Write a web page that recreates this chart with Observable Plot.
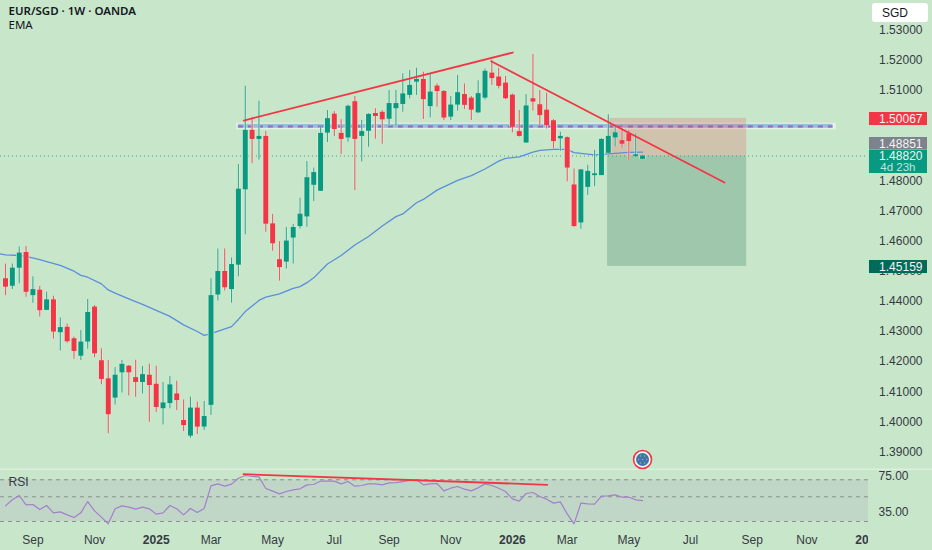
<!DOCTYPE html>
<html>
<head>
<meta charset="utf-8">
<style>
html,body{margin:0;padding:0;background:#c8e6c9;overflow:hidden}
svg{display:block}
</style>
<script src="https://cdn.jsdelivr.net/npm/d3@7"></script>
<script src="https://cdn.jsdelivr.net/npm/@observablehq/plot@0.6"></script>
</head>
<body>
<div id="chart"></div>
<script>
// Weekly candles, first bar 2024-08-05
const opens  = [1.4475,1.4450,1.4510,1.4562,1.4419,1.4437,1.4370,1.4405,1.4296,1.4314,1.4276,1.4218,1.4265,1.4381,1.4203,1.4143,1.4079,1.4163,1.4185,1.4147,1.4131,1.4155,1.4125,1.4044,1.4061,1.4093,1.4005,1.3953,1.4046,1.3983,1.4055,1.4421,1.4499,1.4439,1.4520,1.4770,1.4967,1.4937,1.4947,1.4657,1.4538,1.4530,1.4610,1.4648,1.4680,1.4785,1.4765,1.4958,1.5021,1.4957,1.4942,1.5062,1.4947,1.4964,1.5023,1.5027,1.5004,1.5039,1.5053,1.5083,1.5127,1.5136,1.5046,1.5114,1.5096,1.5011,1.5051,1.5086,1.5074,1.5025,1.5074,1.5157,1.5144,1.5124,1.5084,1.4963,1.4925,1.5072,1.5052,1.5034,1.4999,1.4939,1.4943,1.4786,1.4660,1.4778,1.4817,1.4817,1.4891,1.4942,1.4933,1.4956,1.4880,1.4871];
const highs  = [1.4524,1.4524,1.4580,1.4582,1.4482,1.4449,1.4430,1.4417,1.4345,1.4325,1.4282,1.4303,1.4406,1.4386,1.4243,1.4204,1.4181,1.4204,1.4187,1.4205,1.4184,1.4191,1.4185,1.4131,1.4151,1.4135,1.4073,1.4083,1.4066,1.4068,1.4475,1.4574,1.4574,1.4544,1.4854,1.5113,1.5011,1.5064,1.4963,1.4688,1.4598,1.4645,1.4655,1.4742,1.4864,1.4842,1.4978,1.5033,1.5030,1.5002,1.5050,1.5079,1.5000,1.5022,1.5039,1.5032,1.5099,1.5099,1.5155,1.5166,1.5173,1.5160,1.5155,1.5121,1.5099,1.5079,1.5149,1.5121,1.5079,1.5132,1.5171,1.5199,1.5173,1.5146,1.5088,1.5033,1.5086,1.5219,1.5099,1.5090,1.5003,1.4961,1.4945,1.4839,1.4837,1.4851,1.4900,1.4939,1.5019,1.4980,1.4978,1.4967,1.4955,1.4884];
const lows   = [1.4419,1.4439,1.4458,1.4414,1.4394,1.4348,1.4370,1.4275,1.4235,1.4261,1.4208,1.4204,1.4241,1.4213,1.4123,1.3961,1.4056,1.4096,1.4086,1.4082,1.4093,1.3999,1.4031,1.3990,1.4044,1.4038,1.3968,1.3946,1.3958,1.3972,1.4021,1.4401,1.4434,1.4394,1.4482,1.4621,1.4856,1.4869,1.4629,1.4566,1.4467,1.4507,1.4524,1.4640,1.4646,1.4731,1.4765,1.4927,1.4947,1.4887,1.4928,1.4768,1.4862,1.4911,1.4938,1.4921,1.4980,1.4978,1.5027,1.5072,1.5083,1.5003,1.5009,1.5044,1.5000,1.5000,1.5031,1.5036,1.5000,1.5024,1.5069,1.5116,1.5104,1.5069,1.4959,1.4945,1.4925,1.5031,1.4981,1.4972,1.4906,1.4898,1.4797,1.4646,1.4639,1.4751,1.4781,1.4817,1.4889,1.4913,1.4909,1.4867,1.4876,1.4871];
const closes = [1.4447,1.4510,1.4560,1.4430,1.4439,1.4369,1.4405,1.4298,1.4313,1.4266,1.4234,1.4265,1.4363,1.4226,1.4141,1.4024,1.4155,1.4191,1.4163,1.4131,1.4157,1.4121,1.4048,1.4063,1.4123,1.4071,1.3988,1.4046,1.3983,1.4018,1.4419,1.4499,1.4445,1.4522,1.4772,1.4967,1.4937,1.4947,1.4656,1.4591,1.4512,1.4600,1.4645,1.4689,1.4810,1.4827,1.4957,1.5006,1.4970,1.4937,1.5047,1.4937,1.4963,1.5020,1.5013,1.5002,1.5056,1.5056,1.5088,1.5116,1.5136,1.5069,1.5094,1.5096,1.5008,1.5051,1.5092,1.5050,1.5034,1.5089,1.5163,1.5139,1.5113,1.5072,1.4977,1.4947,1.5048,1.5061,1.5016,1.4983,1.4930,1.4947,1.4842,1.4648,1.4836,1.4831,1.4823,1.4937,1.4947,1.4959,1.4921,1.4930,1.4886,1.4882];

const emaWeeks  = [-1,0,2,3,5,6,8,10,11,12,14,15,16,18,20,22,24,26,28,29,30,33,34,35,37,38,40,42,43,44,45,47,49,51,53,55,57,58,60,61,63,66,68,70,72,73,75,77,78,80,82,83,86,88,91,93];
const emaValues = [1.4558,1.4554,1.4552,1.4549,1.4538,1.4532,1.4519,1.4500,1.4486,1.4480,1.4458,1.4438,1.4427,1.4408,1.4390,1.4370,1.4350,1.4322,1.4300,1.4287,1.4293,1.4316,1.4340,1.4366,1.4403,1.4414,1.4425,1.4443,1.4449,1.4462,1.4478,1.4524,1.4552,1.4587,1.4615,1.4650,1.4681,1.4690,1.4727,1.4738,1.4769,1.4801,1.4817,1.4839,1.4865,1.4874,1.4879,1.4895,1.4901,1.4904,1.4904,1.4893,1.4886,1.4889,1.4894,1.4895];

const rsiValues = [42.4,49.1,53.9,43.5,43.9,38.3,42.8,34.6,35.7,32.4,29.4,34.6,47.2,36.8,29.8,22.4,39.1,42.4,40.9,38.7,40.9,39.1,33.2,34.6,42.8,39.1,32.4,39.5,35,39.5,64.6,66.8,64.3,66.5,73.1,76.1,75,74.6,61.7,58.7,55.7,58.3,60.2,61.3,65.7,66.1,70,69.8,69.8,66.8,69.4,64.3,65,66.8,66.8,65.7,68,68.3,69.4,70.6,71.3,65.7,66.8,67.2,59,62,63.9,60.9,59,62.4,66.8,65,62,58.3,50.2,47.6,56.1,57.2,52.8,49.8,45.4,46.8,33.5,22.4,45.4,44.6,44.2,53.1,53.5,54.6,52,52,49.1,48.3];
const rsiBands = [71.33,52.44,25];
const rsiTicks = [75,35];
const rsiTrendWeeks = [34.75,79.1];
const rsiTrendValues = [77.6,65.8];

const priceTicks = [1.53,1.52,1.51,1.48,1.47,1.46,1.45,1.44,1.43,1.42,1.41,1.40,1.39];
const monthDates  = ["2024-09-02","2024-11-04","2025-03-03","2025-05-05","2025-07-07","2025-09-01","2025-11-03","2026-03-02","2026-05-04","2026-07-06","2026-09-07","2026-11-02"];
const monthLabels = ["Sep","Nov","Mar","May","Jul","Sep","Nov","Mar","May","Jul","Sep","Nov"];
const yearDates   = ["2025-01-06","2026-01-05","2027-01-04"];
const yearLabels  = ["2025","2026","2027"];

const riseTrendWeeks = [34.79,74.06];
const riseTrendPrices = [1.49998,1.52253];
const fallTrendWeeks = [70.9,104.96];
const fallTrendPrices = [1.51965,1.47942];

const zoneWeeks = [87.9,108.2];
const zoneTop = 1.50067, zoneEntry = 1.4882, zoneBottom = 1.45159;
const levelWeeks = [34,120.8];
const levelPrice = 1.49799;

const tagLabels = ["1.50067","1.48851","1.48820","1.45159"];
const tagFills  = ["#f23645","#7c838c","#089981","#006b5b"];
const tagTops   = [1.50263,1.49434,1.49003,1.45355];
const tagBottoms= [1.49832,1.49013,1.48240,1.44923];
const tagTextAt = [1.50048,1.49222,1.4882,1.45139];

// ---- helpers
const week0 = Date.UTC(2024,7,5), weekMs = 7*864e5;
const week = w => new Date(week0 + w*weekMs);
const xScale = {type:"utc", domain:[week(-0.73),week(135.33)], range:[0,932], axis:null};
const FONT = "Liberation Sans, Arial, sans-serif";
const TXT = "#363a45";

const candles = opens.map((o,i)=>({date:week(i),open:o,high:highs[i],low:lows[i],close:closes[i]}));
const up = d => d.close >= d.open;
const candleColor = d => up(d) ? "#089981" : "#f23645";
const ema = emaWeeks.map((w,i)=>({date:week(w),value:emaValues[i]}));
const tags = tagLabels.map((label,i)=>({label,fill:tagFills[i],top:tagTops[i],bottom:tagBottoms[i],at:tagTextAt[i]}));
const icon = {date:week(93),price:1.38754};

const main = Plot.plot({
  width:932,height:470,margin:0,
  style:{background:"transparent",fontFamily:FONT},
  x:xScale,
  y:{domain:[1.3839,1.53978],range:[470,0],axis:null},
  marks:[
    Plot.ruleY([1.38423],{stroke:"#dcefdc",strokeWidth:2}),
    // horizontal level
    Plot.rect([0],{x1:week(33.75),x2:week(121.3),y1:1.4969,y2:1.4991,fill:"#e3f1e8"}),
    Plot.rect([0],{x1:week(levelWeeks[0]),x2:week(levelWeeks[1]),y1:1.4974,y2:1.4987,fill:"#93bfdc"}),
    Plot.ruleY([levelPrice],{x1:week(levelWeeks[0]),x2:week(levelWeeks[1]),stroke:"#8f68c4",strokeWidth:2,strokeDasharray:"5,5"}),
    // risk / reward zone
    Plot.rect([0],{x1:week(zoneWeeks[0]),x2:week(zoneWeeks[1]),y1:zoneEntry,y2:zoneTop,fill:"#f23645",fillOpacity:0.2}),
    Plot.rect([0],{x1:week(zoneWeeks[0]),x2:week(zoneWeeks[1]),y1:zoneBottom,y2:zoneEntry,fill:"#43826b",fillOpacity:0.3}),
    // last price line
    Plot.ruleY([closes[closes.length-1]],{x1:week(-0.73),x2:week(126),stroke:"#089981",strokeOpacity:0.75,strokeDasharray:"1,3"}),
    // EMA
    Plot.line(ema,{x:"date",y:"value",stroke:"#5a8fdb",strokeWidth:1.3}),
    // candle halo, then candles
    Plot.ruleX(candles,{x:"date",y1:"low",y2:"high",stroke:"#dff1df",strokeWidth:2.4,strokeOpacity:0.7}),
    Plot.ruleX(candles,{x:"date",y1:"open",y2:"close",stroke:"#dff1df",strokeWidth:6.4,strokeOpacity:0.8}),
    Plot.ruleX(candles,{x:"date",y1:"low",y2:"high",stroke:candleColor,strokeWidth:1.1,strokeOpacity:0.8}),
    Plot.ruleX(candles,{x:"date",y1:"open",y2:"close",stroke:candleColor,strokeWidth:5}),
    // trend lines
    Plot.line(riseTrendWeeks.map((w,i)=>({d:week(w),p:riseTrendPrices[i]})),{x:"d",y:"p",stroke:"#f23645",strokeWidth:1.8}),
    Plot.line(fallTrendWeeks.map((w,i)=>({d:week(w),p:fallTrendPrices[i]})),{x:"d",y:"p",stroke:"#f23645",strokeWidth:1.8}),
    // icon
    Plot.dot([icon],{x:"date",y:"price",r:9,fill:"#f0f6f0",stroke:"#f23645",strokeWidth:1.6}),
    Plot.dot([icon],{x:"date",y:"price",r:6.5,fill:"#3a76b3"}),
    ...d3.range(7).map(k=>Plot.dot([icon],{x:"date",y:"price",r:0.7,fill:"#c9a36a",
      dx:k?4*Math.cos(k*Math.PI/3):0,dy:k?4*Math.sin(k*Math.PI/3):0})),
    // header
    Plot.text(["EUR/SGD · 1W · OANDA"],{frameAnchor:"top-left",dx:8,dy:6.5,fontFamily:"Noto Sans",fontSize:11.5,fontWeight:600,fill:"#131722",textAnchor:"start"}),
    Plot.text(["EMA"],{frameAnchor:"top-left",dx:8,dy:20,fontFamily:"Noto Sans",fontSize:11.5,fill:"#131722",textAnchor:"start"}),
    // price axis
    Plot.text(priceTicks,{y:d=>d,text:d=>d.toFixed(5),frameAnchor:"right",dx:-10,textAnchor:"end",fontSize:12,letterSpacing:"0.25px",fill:TXT}),
    Plot.rect(tags,{x1:()=>week(126.13),x2:()=>week(134.6),y1:"bottom",y2:"top",fill:"fill"}),
    Plot.text(tags,{y:"at",text:"label",frameAnchor:"right",dx:-10,textAnchor:"end",fontSize:12,letterSpacing:"0.25px",fill:"#f2f5f4"}),
    Plot.text(["4d 23h"],{y:()=>1.48439,frameAnchor:"right",dx:-17,textAnchor:"end",fontSize:11.5,fill:"#bfe6dc"}),
    Plot.rect([0],{x1:week(126.57),x2:week(134.74),y1:1.53248,y2:1.53879,fill:"#ffffff",rx:3}),
    Plot.text(["SGD"],{y:()=>1.53563,x:()=>week(127.95),textAnchor:"start",fontSize:12,fill:"#131722"})
  ]
});

const rsiRows = rsiValues.map((v,i)=>({date:week(i),v}));
const rsi = Plot.plot({
  width:932,height:80,margin:0,
  style:{background:"transparent",fontFamily:FONT},
  x:xScale,
  y:{domain:[-7.22,81.67],range:[80,0],axis:null},
  marks:[
    Plot.rect([0],{x1:week(-0.73),x2:week(126),y1:rsiBands[2],y2:rsiBands[0],fill:"#7e57c2",fillOpacity:0.1}),
    Plot.ruleY(rsiBands,{x1:week(-0.73),x2:week(126),stroke:"#8a8f8e",strokeDasharray:"4,4"}),
    Plot.line(rsiRows,{x:"date",y:"v",stroke:"#a47fcb",strokeWidth:1.2}),
    Plot.line(rsiTrendWeeks.map((w,i)=>({d:week(w),v:rsiTrendValues[i]})),{x:"d",y:"v",stroke:"#f23645",strokeWidth:1.8}),
    Plot.text(["RSI"],{frameAnchor:"top-left",dx:8,dy:7,textAnchor:"start",fontSize:12,fill:TXT}),
    Plot.text(monthDates,{x:d=>new Date(d),y:()=>3.9,text:(d,i)=>monthLabels[i],textAnchor:"middle",fontSize:12,fill:TXT}),
    Plot.text(yearDates,{x:d=>new Date(d),y:()=>3.9,text:(d,i)=>yearLabels[i],textAnchor:"middle",fontSize:12,fontWeight:700,fill:TXT,letterSpacing:"0.3px"}),
    Plot.rect([0],{x1:week(126),x2:week(135.33),y1:-7.22,y2:81.67,fill:"#c8e6c9"}),
    Plot.text(rsiTicks,{y:d=>d,text:d=>d.toFixed(2),frameAnchor:"right",dx:-24,textAnchor:"end",fontSize:12,letterSpacing:"0.25px",fill:TXT})
  ]
});
const root=document.getElementById("chart");
root.append(main,rsi);
</script>
</body>
</html>
